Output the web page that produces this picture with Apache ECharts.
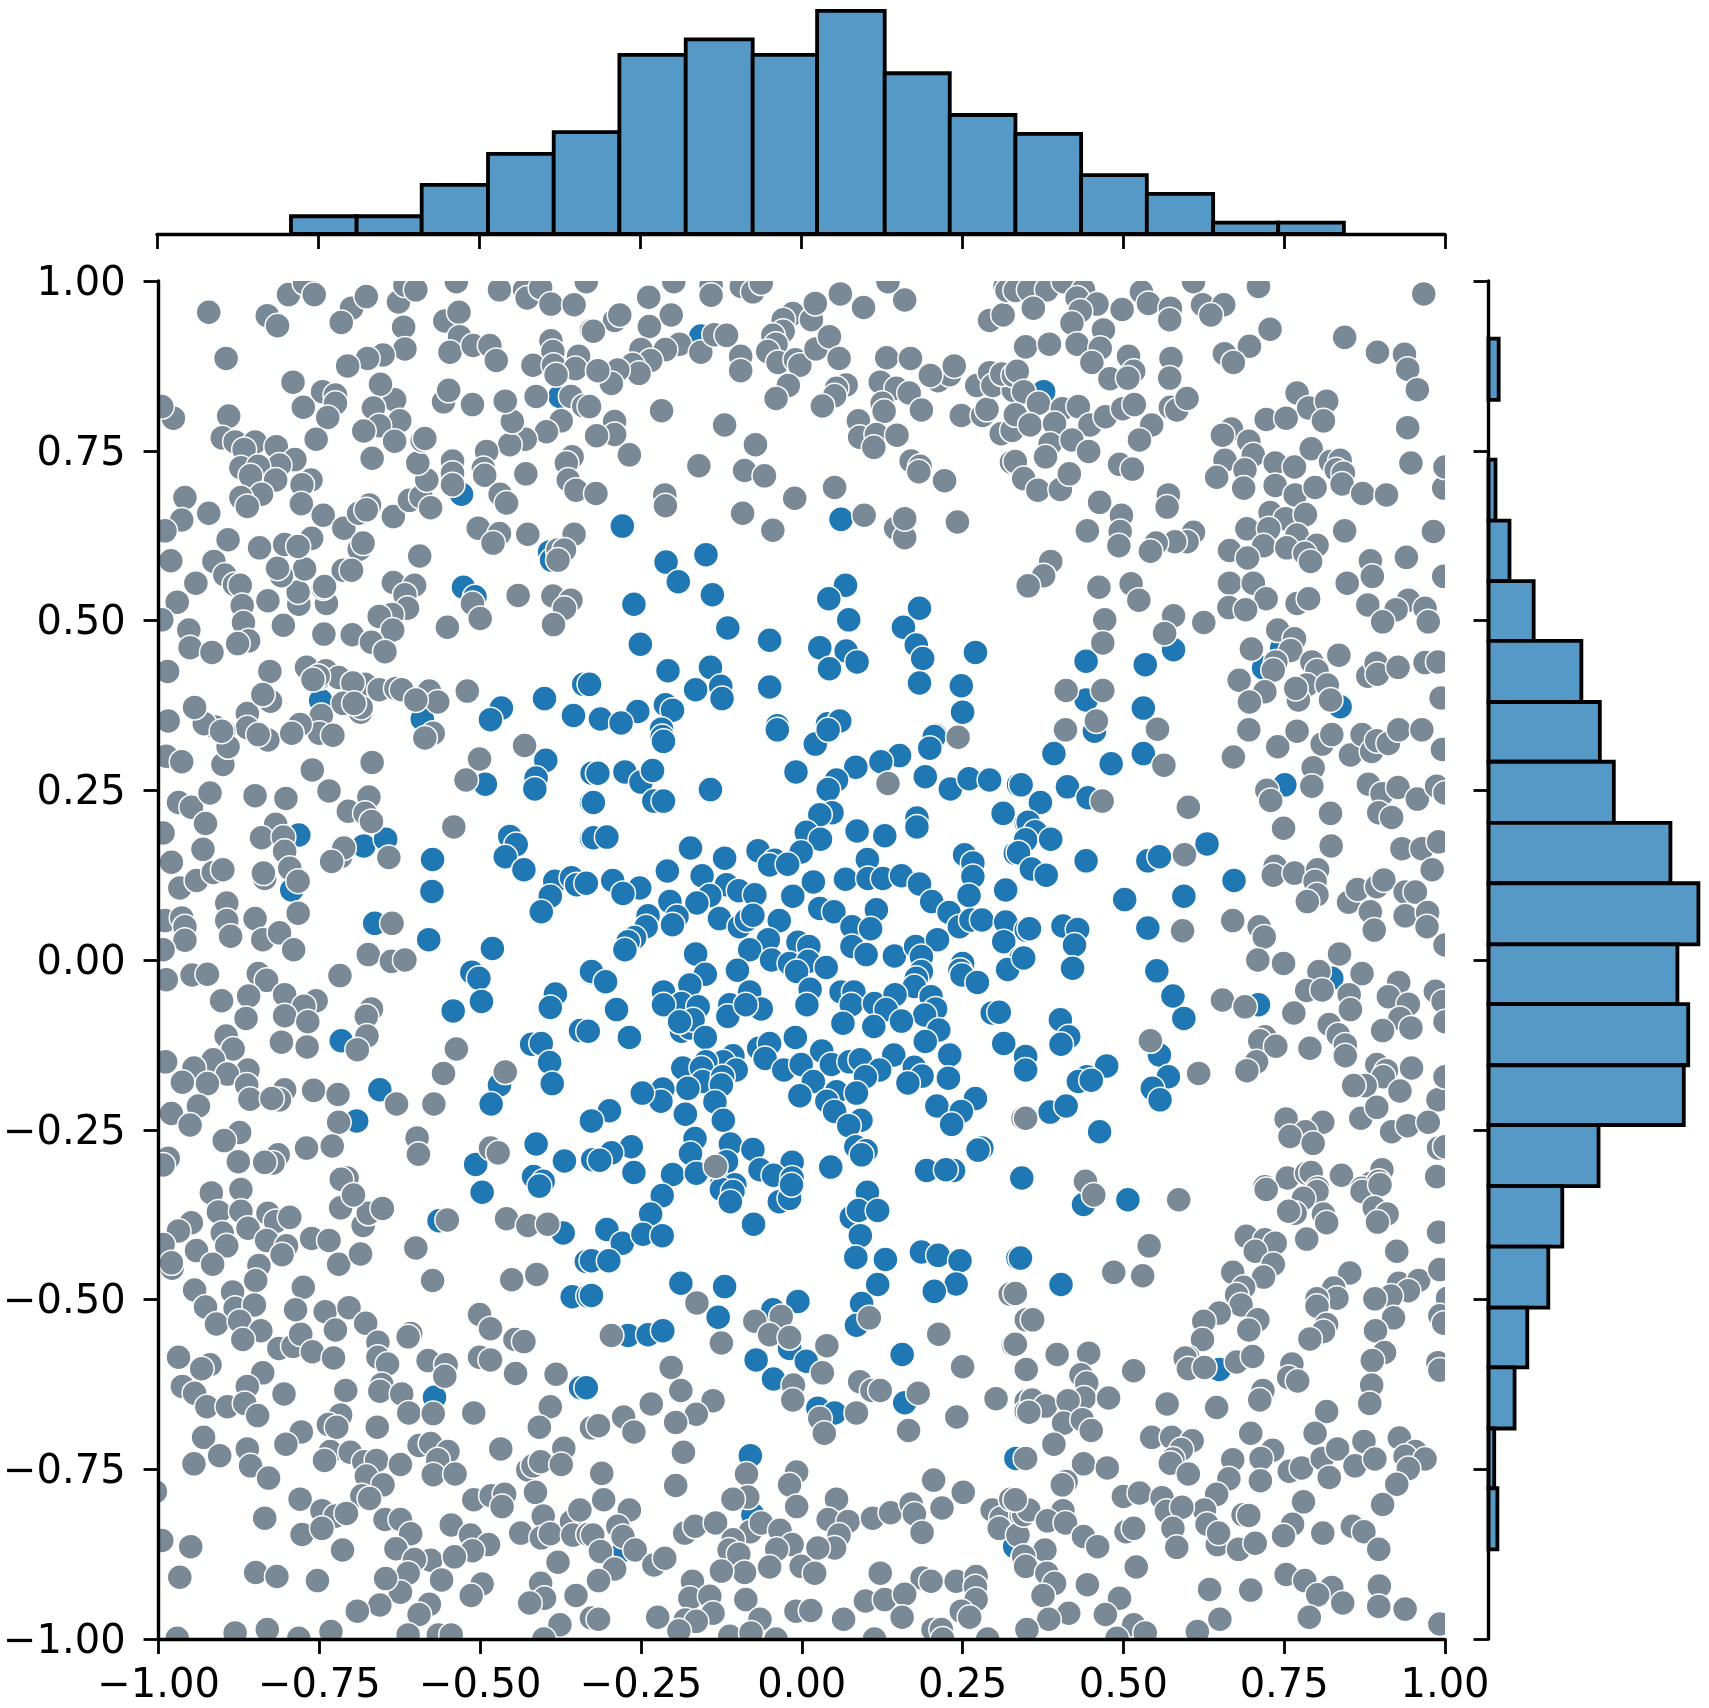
<!DOCTYPE html>
<html><head><meta charset="utf-8">
<style>html,body{margin:0;padding:0;background:#fff}#c{width:1709px;height:1708px}</style>
<script src="https://cdn.jsdelivr.net/npm/echarts@6/dist/echarts.min.js"></script>
</head><body><div id="c"></div>
<script>
const topBinEdges=[-0.792,-0.690,-0.589,-0.486,-0.384,-0.282,-0.179,-0.075,0.025,0.130,0.231,0.333,0.435,0.537,0.640,0.741,0.843];
const topCounts=[3.1,3.1,8.6,14,17.8,31.3,34,31.3,39,28.1,20.8,17.5,10.3,7,2,2];
const rightBinEdges=[0.915,0.825,0.737,0.647,0.558,0.470,0.380,0.292,0.202,0.113,0.023,-0.065,-0.155,-0.243,-0.333,-0.422,-0.512,-0.600,-0.690,-0.778,-0.868];
const rightCounts=[1.6,0,1.1,3.3,7.1,14.6,17.5,19.7,28.6,33,29.7,31.4,30.7,17.3,11.6,9.4,6.1,4.1,0.9,1.4];
const bluePoints=[
[-.529,.686],[-.526,.549],[-.508,.535],[-.392,.601],[-.389,.589],[-.376,.83],[-.748,.382],[-.467,.371],[-.484,.354],[-.4,.385],[-.339,.406],[-.355,.36],[-.59,.355],
[-.279,.639],[-.211,.586],[-.192,.557],[-.149,.597],[-.139,.538],[-.261,.524],[-.115,.489],[-.251,.465],[-.05,.471],[.028,.46],[.069,.455],[.086,.439],[.043,.429],[-.208,.426],[-.142,.431],[-.165,.398],[-.126,.403],[-.124,.385],[-.05,.402],[-.33,.406],[-.255,.366],[-.212,.376],[-.201,.368],[-.313,.355],[-.281,.349],[-.218,.34],[-.038,.345],[.04,.348],[.059,.352],[.183,.518],[.158,.49],[.178,.464],[.188,.444],[.183,.408],[.248,.404],[.25,.365],[.208,.331],[.068,.552],[.042,.532],[.073,.501],[.27,.453],[.061,.649],[-.157,.919],
[.376,.837],[.442,.44],[.578,.457],[.442,.383],[.531,.371],[.455,.339],[.718,.43],[.534,.435],[.837,.373],[.746,.459],
[-.782,.184],[-.793,.103],[-.681,.168],[-.647,.178],[-.574,.148],[-.575,.101],[-.664,.054],[-.58,.03],[-.454,.182],[-.444,.17],[-.461,.152],[-.432,.133],[-.398,.294],[-.413,.268],[-.415,.252],[-.492,.259],[-.326,.275],[-.327,.232],[-.327,.179],[-.384,.116],[-.358,.121],[-.35,.111],[-.391,.094],[-.405,.071],[-.481,.017],[-.513,-.018],[-.502,-.027],[-.498,-.061],[-.542,-.075],[-.383,-.05],[-.391,-.07],[-.344,-.104],[-.42,-.124],[-.405,-.123],[-.392,-.151],[-.388,-.182],[-.47,-.184],[-.483,-.212],[-.328,-.019],[-.716,-.119],[-.656,-.191],[-.692,-.237],[-.413,-.271],[-.369,-.296],[-.507,-.301],[-.417,-.319],[-.402,-.326],[-.327,-.238],[-.325,-.294],
[-.038,.339],[.021,.318],[.041,.339],[.206,.329],[.199,.312],[.152,.301],[.123,.292],[.084,.284],[.054,.265],[.041,.251],[-.009,.277],[-.217,.329],[-.215,.322],[-.317,.275],[-.275,.277],[-.25,.262],[-.232,.279],[-.23,.234],[-.215,.234],[-.324,.232],[-.142,.251],[-.324,.18],[-.303,.181],[.047,.217],[.028,.214],[.192,.27],[.231,.252],[.26,.267],[.292,.265],[.337,.258],[.313,.216],[.349,.202],[.179,.209],[.179,.196],[.086,.19],[.129,.183],[.007,.188],[.029,.178],[-.001,.159],[-.068,.161],[-.042,.147],[-.05,.14],[-.022,.141],[-.173,.165],[-.12,.15],[.253,.155],[.266,.143],[.266,.123],[.332,.157],[.349,.177],[.317,.103],[-.209,.131],[-.155,.124],[-.294,.117],[-.335,.113],[-.252,.106],[-.278,.098],[.018,.115],[-.014,.094],[.068,.119],[.102,.148],[.103,.12],[.126,.12],[.155,.124],[.183,.112],[.202,.086],[.229,.07],[.26,.095],[.245,.049],[.263,.059],[.28,.059],[.317,.056],[.349,.044],[.314,.027],[.341,.003],[.32,-.014],[-.117,.111],[-.098,.102],[-.073,.096],[-.143,.095],[-.163,.084],[-.205,.086],[-.239,.065],[-.194,.064],[-.201,.052],[-.242,.049],[-.26,.033],[-.27,.027],[-.275,.015],[-.128,.061],[-.097,.049],[-.086,.059],[-.076,.066],[-.035,.058],[-.052,.03],[-.081,.015],[-.006,.026],[.011,.02],[-.047,0],[-.019,-.005],[.01,-.002],[-.008,-.017],[.038,-.011],[.028,.076],[.05,.071],[.116,.074],[.078,.049],[.107,.046],[.078,.02],[.1,.008],[.144,.006],[.177,.02],[.211,.03],[.186,.005],[.186,-.017],[.178,-.027],[.175,-.039],[.25,-.005],[.246,-.015],[.249,-.022],[.273,-.033],[-.165,.009],[-.15,-.021],[-.1,-.015],[-.327,-.017],[-.305,-.032],[-.215,-.047],[-.174,-.037],[-.187,-.064],[-.161,-.069],[-.215,-.066],[-.288,-.073],[-.112,-.066],[-.115,-.083],[-.081,-.047],[-.063,-.072],[-.087,-.066],[.013,-.043],[.008,-.066],[.061,-.047],[.081,-.047],[.077,-.066],[.113,-.064],[.145,-.051],[.131,-.073],[.201,-.054],[.208,-.072],[.191,-.081],[.213,-.103],[.064,-.093],[.112,-.098],[.155,-.09],[.296,-.078],[.307,-.077],[-.187,-.105],[-.174,-.1],[-.169,-.088],[-.19,-.091],[-.15,-.114],[-.268,-.114],[-.332,-.105],[-.01,-.114],[.192,-.12],[.314,-.123],[-.067,-.13],[-.05,-.123],[-.057,-.145],[.031,-.134],[.23,-.14],[.348,-.145],[.349,-.162],[-.107,-.141],[-.122,-.15],[-.149,-.15],[-.185,-.159],[-.156,-.159],[-.102,-.162],[-.028,-.162],[-.001,-.154],[.046,-.154],[.074,-.15],[.091,-.147],[.143,-.14],[.121,-.162],[.099,-.172],[.175,-.158],[.187,-.171],[.165,-.181],[.228,-.174],[-.154,-.179],[-.123,-.172],[-.177,-.189],[-.125,-.184],[.018,-.179],[.054,-.194],[.085,-.196],[-.003,-.2],[.039,-.208],[.051,-.223],[-.216,-.19],[-.219,-.208],[-.248,-.196],[-.135,-.209],[-.181,-.227],[-.122,-.236],[-.299,-.222],[-.327,-.237],[.27,-.204],[.21,-.215],[.248,-.223],[.233,-.242],[.092,-.236],[.073,-.244],[-.166,-.263],[-.111,-.271],[-.173,-.285],[-.076,-.279],[-.265,-.275],[-.296,-.284],[-.314,-.295],[-.261,-.313],[-.201,-.316],[-.164,-.314],[-.117,-.297],[-.065,-.309],[-.015,-.298],[-.044,-.317],[-.015,-.321],[.045,-.305],[.084,-.275],[.1,-.281],[.093,-.287],[.28,-.277],[.274,-.28],[.194,-.31],[.236,-.31],[.224,-.309],[-.125,-.331],[-.104,-.331],[.341,-.321],
[.392,.304],[.481,.289],[.531,.304],[.455,.337],[.341,.258],[.413,.255],[.445,.239],[.371,.232],[.352,.203],[.363,.189],[.348,.177],[.387,.178],[.337,.158],[.357,.134],[.38,.125],[.442,.146],[.538,.146],[.556,.152],[.63,.171],[.672,.117],[.502,.089],[.594,.094],[.354,.046],[.406,.05],[.429,.045],[.424,.022],[.345,.003],[.421,-.012],[.538,.047],[.552,-.016],[.577,-.053],[.594,-.086],[.402,-.088],[.415,-.113],[.403,-.124],[.348,-.142],[.348,-.162],[.474,-.156],[.443,-.172],[.43,-.179],[.45,-.177],[.556,-.14],[.57,-.172],[.545,-.189],[.557,-.206],[.386,-.224],[.411,-.215],[.463,-.253],[.342,-.321],[.751,.258],[.71,-.066],[.824,-.027],
[-.571,-.644],[-.564,-.384],[-.371,-.402],[-.335,-.444],[-.357,-.496],[-.332,-.495],[-.344,-.63],[-.497,-.342],[-.408,-.333],
[-.217,-.347],[-.235,-.374],[-.303,-.397],[-.279,-.417],[-.247,-.404],[-.217,-.406],[-.327,-.443],[-.3,-.443],[-.327,-.494],[-.125,-.338],[-.107,-.341],[-.111,-.356],[-.035,-.356],[-.019,-.351],[-.016,-.331],[-.075,-.389],[.102,-.342],[.077,-.379],[.088,-.369],[.118,-.369],[.091,-.406],[.084,-.438],[.13,-.441],[.186,-.43],[.212,-.435],[.246,-.443],[.24,-.477],[.206,-.488],[.118,-.478],[.093,-.506],[.085,-.538],[.336,-.439],[-.188,-.476],[-.12,-.481],[-.13,-.526],[-.27,-.553],[-.239,-.552],[-.216,-.546],[-.006,-.503],[-.045,-.515],[-.019,-.572],[-.071,-.589],[.007,-.591],[-.044,-.617],[.156,-.581],[.16,-.652],[-.335,-.63],[.025,-.66],[.051,-.667],[-.08,-.73],[-.076,-.817],[-.276,-.869],[.333,-.734],[.331,-.864],
[.438,-.36],[.507,-.353],[.34,-.439],[.403,-.478],[.649,-.603]
];
const grayPoints=[
[-.922,.954],[-.895,.886],[-.831,.949],[-.815,.934],[-.798,.98],[-.773,.997],[-.758,.98],[-.70,.96],[-.677,.977],[-.716,.939],[-.627,.969],[-.617,.994],[-.60,.987],[-.619,.932],[-.617,.9],[-.651,.891],[-.675,.886],[-.706,.875],[-.555,.941],[-.533,.954],[-.532,.918],[-.547,.895],[-.511,.905],[-.485,.905],[-.475,.883],[-.537,.999],[-.47,.987],[-.431,.987],[-.427,.975],[-.406,.99],[-.39,.966],[-.354,.965],[-.327,.927],[-.39,.912],[-.387,.896],[-.418,.876],[-.386,.876],[-.347,.889],[-.352,.871],[-.382,.862],[-.413,.83],[-.359,.83],[-.339,.816],[-.374,.794],[-.397,.778],[-.43,.767],[-.454,.759],[-.45,.793],[-.461,.823],[-.512,.818],[-.557,.822],[-.549,.839],
[-.791,.851],[-.745,.837],[-.725,.832],[-.725,.820],[-.775,.814],[-.737,.799],[-.633,.825],[-.655,.848],[-.666,.813],[-.625,.794],[-.657,.787],[-.681,.779],[-.633,.764],[-.755,.767],[-.668,.739],[-.891,.801],[-.977,.798],[-.995,.815],[-.901,.769],[-.881,.763],[-.85,.763],[-.867,.752],[-.817,.756],[-.788,.737],[-.812,.729],[-.872,.725],[-.845,.727],[-.857,.713],[-.818,.707],[-.763,.707],[-.777,.7],[-.84,.686],[-.872,.681],[-.862,.668],[-.778,.672],[-.744,.655],[-.959,.681],[-.964,.648],[-.922,.658],[-.99,.632],[-.981,.588],[-.892,.619],[-.914,.587],[-.942,.555],[-.897,.567],[-.882,.553],[-.873,.552],[-.971,.527],[-.87,.522],[-.868,.497],[-.953,.486],[-.951,.46],[-.917,.453],[-.86,.47],[-.877,.466],[-.995,.501],[-.83,.529],[-.806,.493],[-.782,.524],[-.739,.525],[-.744,.548],[-.783,.542],[-.773,.576],[-.809,.566],[-.815,.577],[-.843,.607],[-.804,.612],[-.762,.621],[-.783,.609],[-.712,.636],[-.689,.658],[-.672,.67],[-.677,.663],[-.635,.653],[-.61,.677],[-.592,.682],[-.577,.666],[-.583,.707],[-.597,.732],[-.59,.765],[-.586,.768],[-.543,.735],[-.543,.717],[-.543,.7],[-.49,.749],[-.495,.724],[-.493,.714],[-.469,.686],[-.459,.673],[-.429,.716],[-.357,.741],[-.366,.732],[-.363,.707],[-.351,.692],
[-.503,.636],[-.47,.628],[-.48,.614],[-.426,.627],[-.354,.627],[-.379,.604],[-.369,.604],[-.379,.589],[-.594,.595],[-.688,.605],[-.682,.614],[-.713,.574],[-.7,.574],[-.742,.55],[-.635,.556],[-.602,.552],[-.617,.538],[-.613,.518],[-.637,.509],[-.657,.506],[-.636,.486],[-.743,.48],[-.699,.479],[-.669,.468],[-.648,.454],[-.551,.49],[-.512,.525],[-.5,.503],[-.441,.537],[-.387,.536],[-.359,.53],[-.369,.518],[-.386,.494],
[-.986,.425],[-.827,.425],[-.77,.431],[-.74,.426],[-.749,.416],[-.72,.416],[-.679,.406],[-.698,.408],[-.657,.398],[-.631,.4],[-.622,.398],[-.579,.396],[-.566,.38],[-.52,.396],[-.985,.352],[-.912,.343],[-.862,.363],[-.826,.381],[-.838,.391],
[-.929,.348],[-.944,.372],[-.862,.342],[-.899,.337],[-.752,.418],[-.76,.413],[-.713,.378],[-.686,.365],[-.685,.372],[-.696,.378],[-.747,.36],
[-.75,.334],[-.6,.383],[-.78,.347],[-.729,.331],
[-.335,.999],[-.238,.976],[-.199,.999],[-.141,.994],[-.141,.979],[-.094,.992],[-.076,.984],[-.063,.997],[-.203,.95],[-.237,.933],[-.291,.942],[-.283,.95],[-.324,.926],[-.19,.907],[-.157,.895],[-.212,.899],[-.25,.899],[-.235,.883],[-.263,.877],[-.253,.864],[-.286,.869],[-.296,.849],[-.317,.868],[-.136,.921],[-.117,.92],[-.095,.889],[-.095,.868],[-.33,.815],[-.291,.793],[-.291,.774],[-.319,.772],[-.268,.744],[-.218,.809],[-.12,.788],[-.072,.759],[-.16,.728],[-.089,.721],[-.058,.713],[-.32,.687],[-.213,.685],[-.212,.669],[-.011,.68],[.051,.696],[-.092,.658],[-.045,.633],[.097,.655],[.146,.636],[.16,.622],[.16,.65],[.242,.645],
[-.014,.952],[-.029,.943],[.015,.943],[.021,.967],[.06,.981],[.096,.961],[.16,.972],[.134,.999],[-.029,.926],[-.045,.92],[-.04,.907],[-.053,.896],[-.037,.88],[-.01,.884],[-.003,.876],[.022,.9],[.043,.918],[.058,.886],[-.021,.846],[-.04,.827],[.069,.847],[.054,.842],[.051,.831],[.032,.816],[.132,.887],[.169,.886],[.122,.851],[.147,.842],[.167,.835],[.125,.82],[.128,.808],[.186,.81],[.088,.794],[.09,.77],[.116,.774],[.148,.773],[.112,.755],[.17,.735],[.184,.727],[.182,.719],[.222,.706],[.326,.733],[.346,.708],
[.248,.802],[.281,.802],[.288,.811],[.212,.853],[.23,.862],[.2,.861],[.237,.875],[.272,.846],[.292,.865],[.297,.846],[.329,.839],[.311,.863],[.329,.861],[.31,.775],[.327,.780],
[.292,.942],[.313,.95],[.316,.992],[.336,.992],[.319,.986],[.332,.986],
[.353,.987],[.381,.987],[.407,.999],[.36,.96],[.438,.987],[.428,.975],[.459,.966],[.433,.956],[.42,.938],[.498,.958],[.528,.984],[.539,.967],[.573,.96],[.572,.943],[.609,.999],[.623,.965],[.656,.965],[.636,.95],[.71,.992],[.967,.981],[.728,.929],[.844,.917],[.895,.895],[.937,.892],[.942,.87],[.957,.84],[.696,.904],[.657,.893],[.671,.88],[.348,.903],[.385,.907],[.428,.907],[.469,.928],[.464,.901],[.451,.88],[.508,.889],[.516,.867],[.479,.856],[.507,.857],[.574,.886],[.572,.857],[.335,.867],[.345,.837],[.368,.82],[.405,.812],[.43,.815],[.332,.803],[.355,.788],[.393,.79],[.448,.788],[.472,.8],[.499,.812],[.517,.818],[.573,.814],[.583,.81],[.599,.827],[.544,.788],[.525,.766],[.386,.76],[.42,.766],[.446,.749],[.379,.741],[.332,.734],[.345,.709],[.367,.692],[.402,.693],[.416,.716],[.494,.73],[.514,.723],
[.77,.835],[.788,.813],[.816,.823],[.811,.794],[.722,.796],[.753,.798],[.942,.784],[.668,.782],[.654,.773],[.695,.764],[.702,.744],[.658,.736],[.689,.722],[.645,.711],[.687,.695],[.736,.732],[.766,.726],[.792,.753],[.822,.734],[.837,.736],[.831,.722],[.842,.717],[.84,.701],[.736,.699],[.767,.685],[.798,.696],[.872,.687],[.909,.685],[.947,.732],[.998,.695],[1,.726],
[.463,.674],[.497,.655],[.57,.685],[.568,.667],[.444,.632],[.495,.631],[.493,.61],[.609,.63],[.599,.616],[.58,.616],[.551,.614],[.542,.602],[.728,.659],[.752,.65],[.783,.656],[.692,.635],[.726,.635],[.77,.626],[.801,.611],[.665,.603],[.718,.61],[.754,.607],[.782,.599],[.791,.587],[.693,.592],[.844,.632],[.982,.631],[.94,.593],[.884,.588],[.887,.565],[.387,.587],[.376,.566],[.352,.551],[.462,.549],[.512,.554],[.524,.53],[.848,.555],[.665,.555],[.702,.555],[.722,.532],[.664,.519],[.69,.516],[.77,.525],[.788,.532],[.88,.523],[.943,.53],[.924,.516],[.903,.498],[.998,.565],[.471,.501],[.468,.467],[.578,.507],[.564,.481],[.625,.497],[.74,.486],[.766,.473],[.76,.456],[.699,.458],[.737,.439],[.733,.427],[.68,.412],[.835,.449],[.88,.418],[.893,.437],[.969,.518],[.974,.498],[.793,.439],[.801,.426],[.785,.405],[.72,.395],[.696,.38],[.772,.383],[.768,.4],[.817,.405],[.822,.383],[.895,.421],[.927,.431],[.969,.438],[.989,.439],[.994,.386],[.411,.397],[.468,.397],[.458,.352],[.553,.34],
[-.988,.3],[-.964,.292],[-.9,.288],[-.892,.314],[-.902,.337],[-.83,.324],[-.845,.332],[-.793,.334],[-.761,.28],[-.735,.249],[-.668,.291],[-.501,.296],[-.522,.265],[-.431,.316],[-.573,.334],[-.586,.327],[-.969,.232],[-.949,.225],[-.92,.246],[-.85,.242],[-.802,.238],[-.927,.201],[-.931,.163],[-.993,.187],[-.98,.144],[-.967,.106],[-.941,.117],[-.915,.129],[-.9,.133],[-.818,.2],[-.84,.18],[-.806,.181],[-.804,.16],[-.796,.135],[-.835,.12],[-.837,.128],[-.783,.116],[-.705,.219],[-.673,.24],[-.679,.216],[-.669,.204],[-.541,.196],[-.642,.151],[-.717,.152],[-.712,.165],[-.731,.145],[-.783,.069],[-.894,.084],[-.894,.058],[-.888,.035],[-.85,.061],[-.838,.03],[-.812,.04],[-.79,.015],[-.99,.058],[-.964,.062],[-.959,.049],[-.959,.029],[-.993,.015],[-.637,.054],[-.674,.008],[-.638,-.002],[-.617,0],[-.718,-.023],[-.988,-.029],[-.948,-.022],[-.924,-.021],[-.845,-.02],[-.832,-.03],[-.804,-.051],[-.755,-.06],[-.774,-.068],[-.902,-.06],[-.86,-.053],[-.864,-.086],[-.804,-.082],[-.768,-.091],[-.669,-.072],[-.677,-.083],[-.676,-.112],[-.691,-.132],[-.809,-.121],[-.769,-.128],[-.895,-.112],[-.884,-.131],[-.537,-.131],[-.989,-.15],[-.915,-.147],[-.945,-.159],[-.861,-.162],[-.893,-.168],[-.963,-.18],[-.924,-.182],[-.863,-.184],[-.858,-.205],[-.804,-.191],[-.812,-.206],[-.824,-.204],[-.759,-.192],[-.721,-.198],[-.63,-.212],[-.572,-.212],[-.557,-.167],[-.461,-.165],[-.98,-.226],[-.938,-.215],[-.951,-.243],[-.72,-.239],[-.874,-.254],[-.898,-.266],[-.73,-.274],[-.77,-.277],[-.814,-.287],[-.822,-.299],[-.835,-.298],[-.876,-.297],[-.598,-.262],[-.596,-.286],[-.985,-.292],[-.993,-.302],[-.484,-.277],[-.472,-.284],[-.707,-.321],[-.716,-.323],
[.134,.26],[.243,.328],[-.134,-.304],[.344,-.233],
[.41,.339],[.563,.287],[.467,.234],[.601,.225],[.595,.155],[.592,.043],[.348,-.233],[.542,-.119],[.617,-.167],[.441,-.326],[.671,.299],[.695,.339],[.74,.314],[.77,.337],[.809,.318],[.824,.332],[.795,.283],[.793,.256],[.723,.25],[.729,.235],[.853,.302],[.871,.332],[.886,.307],[.894,.323],[.912,.319],[.928,.339],[.964,.339],[.996,.31],[.881,.259],[.902,.245],[.927,.254],[.957,.237],[.987,.256],[1,.246],[.897,.217],[.917,.21],[.822,.216],[.749,.194],[.823,.168],[.933,.164],[.964,.164],[.99,.174],[.98,.133],[.736,.138],[.733,.125],[.766,.128],[.802,.133],[.798,.116],[.801,.096],[.786,.086],[.85,.085],[.864,.104],[.894,.108],[.905,.118],[.938,.1],[.954,.1],[.884,.071],[.938,.065],[.973,.07],[.972,.049],[.89,.044],[.67,.058],[.711,.049],[.719,.034],[1,.022],[.709,0],[.749,-.005],[.836,.009],[.804,-.017],[.871,-.02],[.785,-.045],[.809,-.044],[.928,-.033],[.912,-.054],[.985,-.046],[.997,-.061],[.943,-.065],[.851,-.051],[.853,-.073],[.654,-.059],[.689,-.069],[.765,-.078],[.82,-.095],[.93,-.086],[.947,-.1],[.903,-.104],[.834,-.11],[1,-.091],[.72,-.113],[.712,-.119],[.737,-.127],[.79,-.13],[.845,-.125],[.845,-.141],[.707,-.15],[.692,-.163],[.894,-.154],[.909,-.163],[.948,-.159],[.904,-.172],[.876,-.185],[.858,-.185],[.93,-.193],[.989,-.206],[1,-.172],[.753,-.234],[.81,-.239],[.783,-.253],[.759,-.26],[.795,-.27],[.869,-.233],[.894,-.217],[.917,-.253],[.942,-.244],[.974,-.239],[.99,-.277],[1,-.275],[.72,-.334],[.755,-.321],[.785,-.314],[.792,-.313],[.802,-.336],[.839,-.317],[.902,-.309],[.884,-.329],[.871,-.336],[.897,-.326],[.987,-.319],
[-.918,-.343],[-.872,-.338],[-.949,-.387],[-.969,-.399],[-.907,-.371],[-.872,-.37],[-.993,-.419],[-.901,-.402],[-.894,-.421],[-.941,-.428],[-.916,-.448],[-.979,-.454],[-.98,-.446],[-.861,-.395],[-.83,-.373],[-.818,-.385],[-.796,-.379],[-.832,-.413],[-.801,-.421],[-.808,-.434],[-.844,-.45],[-.849,-.472],[-.944,-.486],[-.885,-.489],[-.927,-.511],[-.881,-.513],[-.851,-.508],[-.91,-.536],[-.874,-.532],[-.841,-.546],[-.869,-.559],[-.813,-.572],[-.791,-.569],[-.779,-.551],[-.761,-.577],[-.728,-.586],[-.775,-.482],[-.787,-.515],[-.741,-.518],[-.704,-.512],[-.725,-.545],[-.678,-.535],[-.659,-.563],[-.659,-.585],[-.644,-.595],[-.608,-.55],[-.612,-.555],[-.762,-.41],[-.735,-.413],[-.72,-.448],[-.686,-.433],[-.682,-.391],[-.674,-.373],[-.652,-.366],[-.717,-.365],[-.697,-.346],[-.6,-.424],[-.574,-.472],[-.551,-.383],[-.459,-.381],[-.426,-.391],[-.395,-.389],[-.412,-.463],[-.451,-.471],[-.501,-.522],[-.484,-.543],[-.446,-.559],[-.432,-.562],[-.501,-.585],[-.484,-.589],[-.445,-.609],[-.581,-.59],[-.553,-.596],[-.555,-.613],[-.382,-.61],[-.969,-.585],[-.92,-.596],[-.933,-.602],[-.838,-.608],[-.862,-.628],[-.963,-.628],[-.944,-.638],[-.925,-.658],[-.893,-.658],[-.866,-.653],[-.846,-.671],[-.805,-.639],[-.709,-.634],[-.653,-.625],[-.656,-.635],[-.622,-.639],[-.611,-.667],[-.51,-.667],[-.391,-.658],[-.408,-.688],[-.327,-.689],[-.573,-.668],[-.717,-.67],[-.736,-.684],[-.723,-.688],[-.66,-.688],[-.778,-.695],[-.802,-.713],[-.93,-.703],[-.905,-.73],[-.945,-.742],[-.862,-.72],[-.857,-.745],[-.829,-.763],[-.733,-.724],[-.742,-.737],[-.702,-.725],[-.681,-.739],[-.661,-.737],[-.624,-.743],[-.677,-.76],[-.651,-.773],[-.684,-.789],[-.672,-.793],[-.595,-.715],[-.577,-.712],[-.55,-.724],[-.566,-.736],[-.573,-.758],[-.539,-.757],[-.468,-.72],[-.426,-.751],[-.418,-.745],[-.406,-.739],[-.37,-.719],[-.374,-.743],[-.414,-.784],[-.78,-.794],[-.746,-.811],[-.725,-.819],[-.708,-.815],[-.835,-.822],[-.777,-.846],[-.746,-.837],[-.714,-.869],[-.648,-.824],[-.624,-.824],[-.608,-.845],[-.631,-.867],[-.545,-.832],[-.515,-.847],[-.487,-.861],[-.512,-.87],[-.51,-.795],[-.483,-.789],[-.462,-.787],[-.466,-.805],[-.402,-.819],[-.437,-.844],[-.405,-.851],[-.391,-.845],[-.358,-.827],[-.345,-.81],[-.356,-.847],[-.332,-.846],[-.95,-.864],[-.995,-.855],[-.967,-.909],[-.849,-.902],[-.816,-.908],[-.753,-.914],[-.577,-.884],[-.54,-.879],[-.602,-.883],[-.612,-.903],[-.624,-.931],[-.647,-.911],[-.56,-.913],[-.656,-.95],[-.691,-.959],[-.579,-.949],[-.595,-.964],[-.497,-.919],[-.514,-.936],[-.406,-.918],[-.4,-.94],[-.423,-.947],[-.351,-.936],[-.379,-.887],[-.376,-.979],[-.971,-.999],[-.881,-.991],[-.831,-.986],[-.782,-.999],[-.732,-.989],[-.612,-.994],[-.565,-.994],[-.545,-.994],[-.401,-1],[-.327,-.969],[-1.005,-.783],
[-.163,-.505],[-.296,-.553],[-.125,-.564],[-.073,-.532],[-.032,-.525],[-.05,-.552],[-.019,-.556],[.039,-.568],[.032,-.608],[-.013,-.626],[-.014,-.648],[-.203,-.6],[-.188,-.634],[-.138,-.649],[-.164,-.669],[-.196,-.681],[-.234,-.654],[-.277,-.673],[-.316,-.686],[-.261,-.695],[-.184,-.725],[-.311,-.756],[-.196,-.774],[-.308,-.795],[-.268,-.81],[-.286,-.834],[-.278,-.849],[-.325,-.847],[-.313,-.871],[-.259,-.869],[-.291,-.897],[-.316,-.914],[-.23,-.891],[-.213,-.881],[-.316,-.971],[-.224,-.968],[-.182,-.844],[-.166,-.834],[-.134,-.829],[-.17,-.915],[-.174,-.94],[-.143,-.937],[-.138,-.962],[-.181,-.972],[-.164,-.974],[-.191,-.988],[-.086,-.757],[-.084,-.791],[-.107,-.794],[-.008,-.754],[-.019,-.773],[-.008,-.805],[.054,-.794],[.041,-.824],[.072,-.827],[.058,-.847],[.051,-.866],[.025,-.866],[.11,-.822],[.138,-.814],[.17,-.801],[.175,-.816],[.187,-.843],[.218,-.807],[.251,-.784],[.205,-.766],[.085,-.667],[.028,-.675],[.035,-.697],[.09,-.621],[.109,-.634],[.122,-.634],[.181,-.638],[.166,-.693],[.241,-.673],[.302,-.646],[.324,-.492],[.213,-.551],[.25,-.599],[.329,-.567],[.349,-.603],[.349,-.65],[.349,-.53],[.349,-.665],[.105,-.527],[-.08,-.842],[-.063,-.829],[-.107,-.854],[-.113,-.869],[-.098,-.875],[-.034,-.84],[-.015,-.861],[-.039,-.868],[-.05,-.894],[-.089,-.902],[-.125,-.9],[-.001,-.893],[.02,-.903],[.122,-.903],[.187,-.91],[.201,-.915],[.24,-.915],[.271,-.908],[.27,-.923],[.271,-.942],[.248,-.959],[.261,-.968],[.099,-.944],[.129,-.942],[.16,-.934],[.156,-.968],[.065,-.971],[-.009,-.959],[.014,-.958],[-.087,-.942],[-.065,-.971],[-.112,-.996],[-.079,-.991],[-.04,-1],[.204,-.986],[.217,-.986],[.219,-1],[.289,-1],[.296,-.81],[.31,-.822],[.325,-.794],[.307,-.837],[.341,-.817],[.336,-.847],[.344,-.881],[.349,-.986],[.113,-1],
[.454,-.346],[.586,-.353],[.54,-.421],[.485,-.46],[.53,-.465],[.359,-.53],[.332,-.491],[.332,-.566],[.722,-.338],[.801,-.341],[.871,-.341],[.899,-.331],[.78,-.351],[.767,-.373],[.811,-.374],[.816,-.387],[.757,-.37],[.785,-.411],[.89,-.365],[.91,-.374],[.895,-.386],[.99,-.401],[.925,-.429],[.691,-.407],[.72,-.412],[.736,-.417],[.705,-.429],[.733,-.448],[.718,-.467],[.67,-.46],[.687,-.482],[.676,-.493],[.683,-.508],[.649,-.52],[.709,-.53],[.695,-.545],[.625,-.532],[.623,-.559],[.852,-.461],[.827,-.483],[.832,-.498],[.801,-.499],[.801,-.51],[.816,-.537],[.811,-.547],[.79,-.558],[.928,-.476],[.959,-.472],[.943,-.487],[.916,-.495],[.891,-.499],[.92,-.527],[.892,-.546],[.906,-.578],[.887,-.59],[.886,-.626],[.883,-.653],[.992,-.456],[1.004,-.498],[.992,-.524],[.998,-.535],[.989,-.593],[.992,-.604],[.397,-.581],[.446,-.579],[.349,-.603],[.434,-.611],[.443,-.623],[.439,-.645],[.477,-.645],[.516,-.605],[.358,-.648],[.379,-.657],[.353,-.666],[.414,-.649],[.407,-.682],[.436,-.677],[.45,-.693],[.392,-.713],[.6,-.585],[.596,-.586],[.601,-.602],[.626,-.6],[.676,-.592],[.701,-.584],[.762,-.595],[.757,-.615],[.771,-.62],[.717,-.634],[.712,-.648],[.568,-.654],[.645,-.659],[.816,-.665],[.798,-.697],[.698,-.697],[.544,-.703],[.575,-.703],[.607,-.708],[.59,-.721],[.577,-.735],[.573,-.741],[.601,-.757],[.732,-.722],[.714,-.734],[.758,-.753],[.777,-.748],[.809,-.734],[.833,-.72],[.82,-.762],[.874,-.709],[.86,-.745],[.891,-.735],[.929,-.704],[.954,-.724],[.938,-.731],[.969,-.735],[.943,-.749],[.925,-.772],[.903,-.802],[.67,-.736],[.664,-.764],[.713,-.767],[.645,-.787],[.626,-.81],[.438,-.742],[.475,-.748],[.411,-.768],[.405,-.773],[.348,-.734],[.5,-.79],[.525,-.785],[.56,-.792],[.567,-.812],[.591,-.806],[.577,-.837],[.583,-.865],[.345,-.817],[.353,-.81],[.332,-.795],[.406,-.811],[.382,-.826],[.41,-.829],[.438,-.849],[.46,-.864],[.504,-.842],[.516,-.837],[.63,-.831],[.646,-.861],[.648,-.844],[.679,-.868],[.705,-.859],[.686,-.817],[.695,-.818],[.78,-.798],[.763,-.831],[.749,-.848],[.81,-.844],[.856,-.834],[.874,-.842],[.897,-.868],[.378,-.869],[.345,-.878],[.348,-.893],[.381,-.903],[.393,-.918],[.375,-.936],[.444,-.92],[.52,-.894],[.494,-.94],[.472,-.964],[.415,-.962],[.384,-.971],[.35,-.986],[.516,-.979],[.534,-.991],[.49,-.999],[.634,-.927],[.698,-.928],[.65,-.971],[.615,-.989],[.753,-.905],[.782,-.914],[.824,-.924],[.802,-.935],[.841,-.947],[.898,-.922],[.897,-.952],[.938,-.956],[.789,-.968],[.992,-.978]
];
const fmt=v=>v.toFixed(2).replace('-','\u2212');
const lineStyle={color:'#000',width:3.4};
const tickStyle={length:15,lineStyle:{color:'#000',width:2.8}};
const barStyle={fill:'#5799c6',stroke:'#000',lineWidth:3.8};
const topData=topCounts.map((c,i)=>[topBinEdges[i],topBinEdges[i+1],c]);
const rightData=rightCounts.map((c,i)=>[rightBinEdges[i],rightBinEdges[i+1],c]).filter(d=>d[2]>0);
const ptStyle={borderColor:'#fff',borderWidth:1.5,opacity:1};
const labelCommon={fontFamily:'DejaVu Sans',fontSize:40,color:'#000'};
const mask=(x,y,width,height)=>({type:'rect',z:5,silent:true,shape:{x,y,width,height},style:{fill:'#fff'}});
const chart=echarts.init(document.getElementById('c'),null,{renderer:'canvas'});
chart.setOption({
 animation:false,backgroundColor:'#fff',
 graphic:{elements:[mask(125,252,1340,29),mask(125,252,32,1420),mask(1445,252,20,1420),mask(125,1639,1340,30)]},
 grid:[
  {left:157,top:281,width:1288,height:1358},
  {left:157,top:4,width:1288,height:230},
  {left:1488.5,top:281,width:215,height:1358}
 ],
 xAxis:[
  {gridIndex:0,type:'value',min:-1,max:1,interval:.25,z:10,splitLine:{show:false},axisLine:{onZero:false,lineStyle},axisTick:tickStyle,axisLabel:{...labelCommon,margin:28,formatter:fmt}},
  {gridIndex:1,type:'value',min:-1,max:1,interval:.25,z:10,splitLine:{show:false},axisLine:{onZero:false,lineStyle},axisTick:tickStyle,axisLabel:{show:false}},
  {gridIndex:2,type:'value',min:0,max:33.8,show:false}
 ],
 yAxis:[
  {gridIndex:0,type:'value',min:-1,max:1,interval:.25,z:10,splitLine:{show:false},axisLine:{onZero:false,lineStyle},axisTick:tickStyle,axisLabel:{margin:33,formatter:v=>'{v|'+fmt(v)+'}',rich:{v:{...labelCommon,padding:[7,0,0,0]}}}},
  {gridIndex:1,type:'value',min:0,max:40.2,show:false},
  {gridIndex:2,type:'value',min:-1,max:1,interval:.25,z:10,splitLine:{show:false},axisLine:{onZero:false,lineStyle},axisTick:tickStyle,axisLabel:{show:false}}
 ],
 series:[
  {type:'scatter',xAxisIndex:0,yAxisIndex:0,data:bluePoints,symbolSize:25,clip:false,itemStyle:{color:'#1f77b4',...ptStyle},z:2},
  {type:'scatter',xAxisIndex:0,yAxisIndex:0,data:grayPoints,symbolSize:25,clip:false,itemStyle:{color:'#7a8996',...ptStyle},z:3},
  {type:'custom',xAxisIndex:1,yAxisIndex:1,data:topData,encode:{x:[0,1],y:2},clip:false,z:4,
   renderItem:(p,api)=>{const a=api.coord([api.value(0),0]),b=api.coord([api.value(1),api.value(2)]);
    return {type:'rect',shape:{x:a[0],y:b[1],width:b[0]-a[0],height:a[1]-b[1]},style:barStyle};}},
  {type:'custom',xAxisIndex:2,yAxisIndex:2,data:rightData,encode:{x:2,y:[0,1]},clip:false,z:4,
   renderItem:(p,api)=>{const a=api.coord([0,api.value(0)]),b=api.coord([api.value(2),api.value(1)]);
    return {type:'rect',shape:{x:a[0],y:a[1],width:b[0]-a[0],height:b[1]-a[1]},style:barStyle};}}
 ]
});
</script></body></html>
